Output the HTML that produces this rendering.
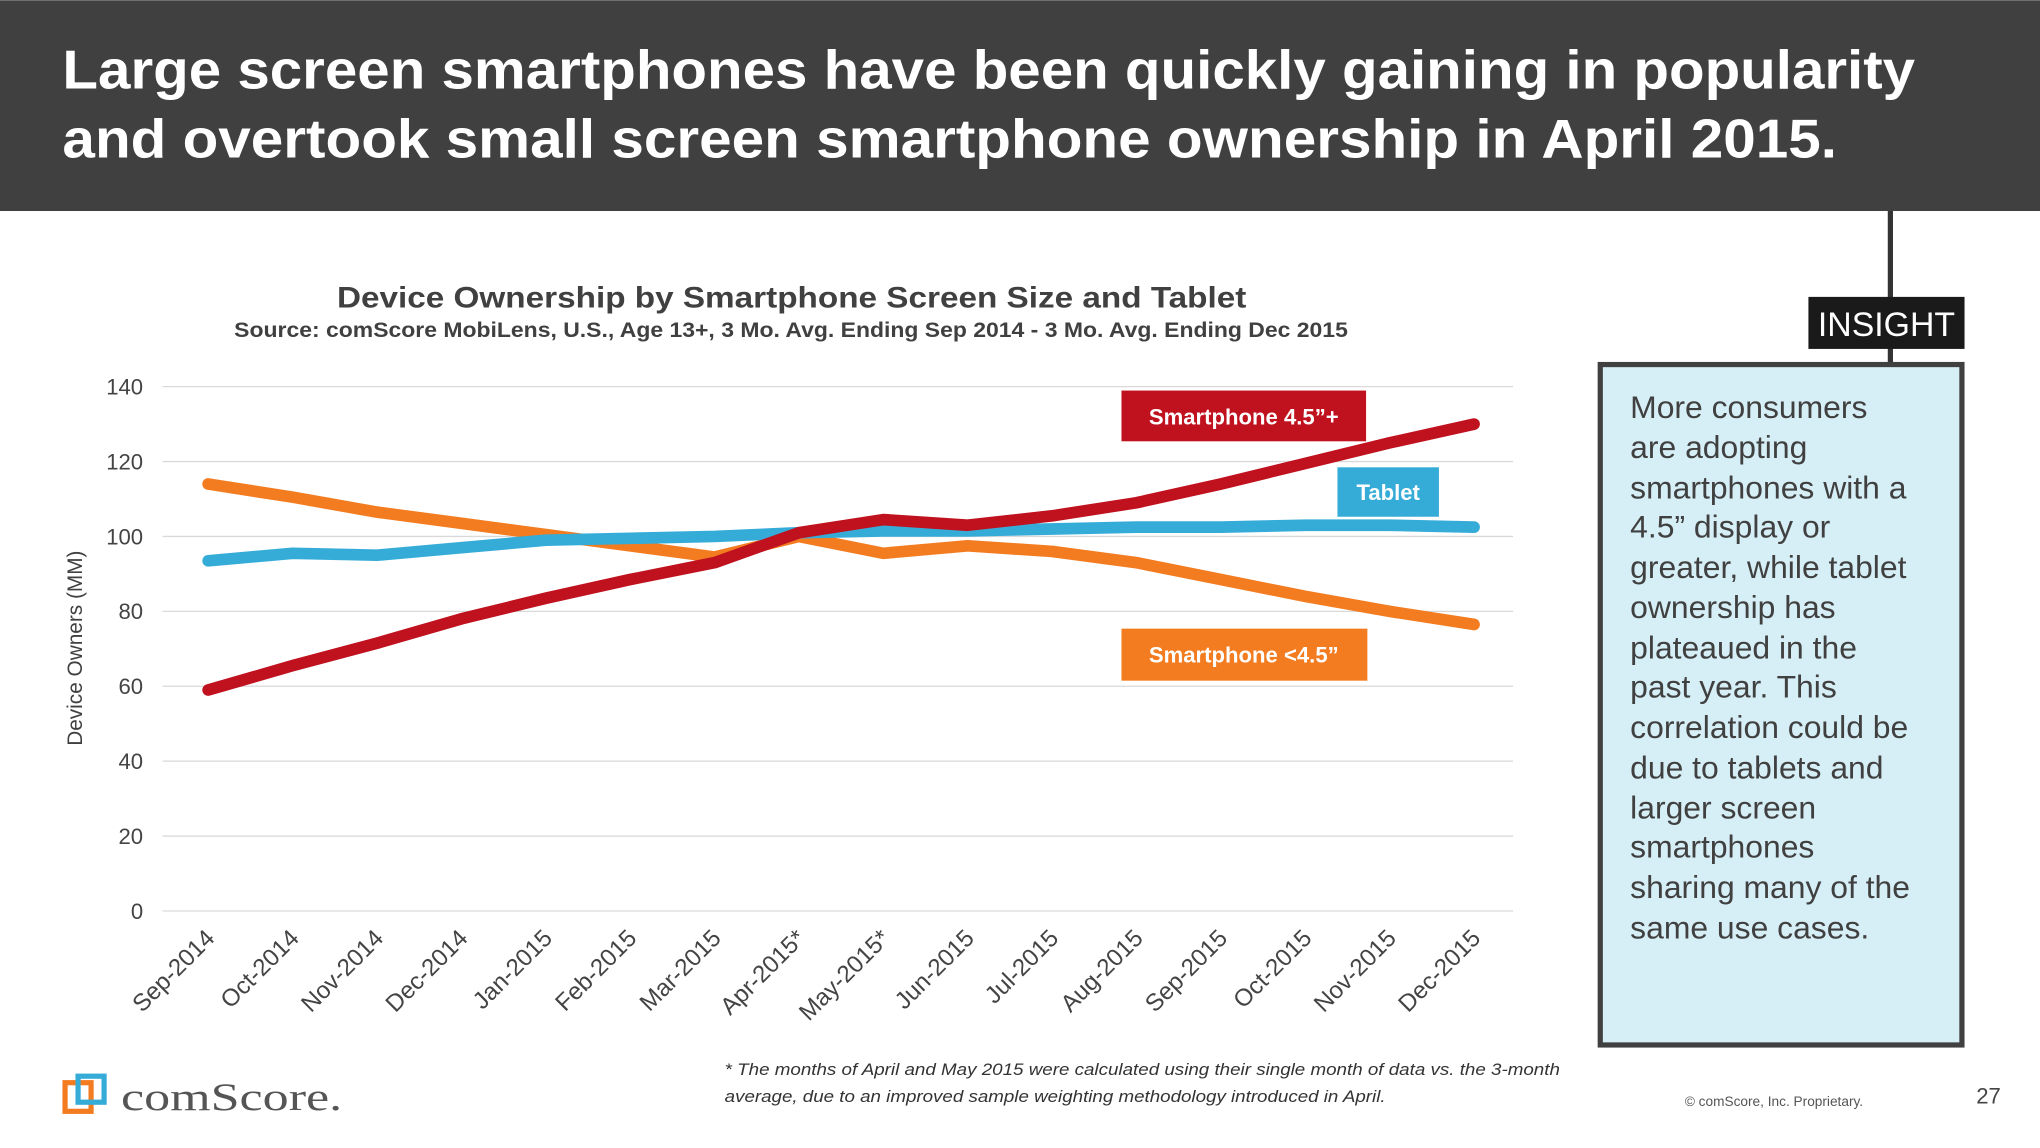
<!DOCTYPE html>
<html><head><meta charset="utf-8"><style>
html,body{margin:0;padding:0;background:#fff;}
svg{display:block;font-family:"Liberation Sans",Arial,sans-serif;}
</style></head><body>
<svg width="2040" height="1148" viewBox="0 0 1568 882" xmlns="http://www.w3.org/2000/svg">
<rect x="0" y="0" width="1568" height="162" fill="#404040"/>
<text x="48" y="68" fill="#fff" font-size="42" font-weight="bold" textLength="1424" lengthAdjust="spacingAndGlyphs">Large screen smartphones have been quickly gaining in popularity</text>
<text x="48" y="121" fill="#fff" font-size="42" font-weight="bold" textLength="1364" lengthAdjust="spacingAndGlyphs">and overtook small screen smartphone ownership in April 2015.</text>

<text x="259" y="236" fill="#404040" font-size="23" font-weight="bold" textLength="699" lengthAdjust="spacingAndGlyphs">Device Ownership by Smartphone Screen Size and Tablet</text>
<text x="180" y="259" fill="#404040" font-size="16" font-weight="bold" textLength="856" lengthAdjust="spacingAndGlyphs">Source: comScore MobiLens, U.S., Age 13+, 3 Mo. Avg. Ending Sep 2014 - 3 Mo. Avg. Ending Dec 2015</text>
<text transform="translate(63,498) rotate(-90)" text-anchor="middle" fill="#404040" font-size="16">Device Owners (MM)</text>
<g id="grid"></g><g id="ylab"></g><g id="xlab"></g><g id="lines"></g>

<rect x="862" y="300" width="188" height="39" fill="#c0111f"/>
<text x="956" y="326" text-anchor="middle" fill="#fff" font-size="17" font-weight="bold">Smartphone 4.5”+</text>
<rect x="1028" y="359" width="78" height="38" fill="#35acd8"/>
<text x="1067" y="384" text-anchor="middle" fill="#fff" font-size="17" font-weight="bold">Tablet</text>
<rect x="862" y="483" width="189" height="40" fill="#f47c20"/>
<text x="956" y="509" text-anchor="middle" fill="#fff" font-size="17" font-weight="bold">Smartphone &lt;4.5”</text>

<line x1="1453" y1="162" x2="1453" y2="282" stroke="#333" stroke-width="4"/>
<rect x="1230" y="280" width="278" height="523" fill="#d6eef6" stroke="#404040" stroke-width="4"/>
<rect x="1390" y="228" width="120" height="40" fill="#1a1a1a"/>
<text x="1450" y="258" text-anchor="middle" fill="#fff" font-size="26">INSIGHT</text>
<text fill="#404040" font-size="24.5">
<tspan x="1253" y="321">More consumers</tspan><tspan x="1253" y="352">are adopting</tspan><tspan x="1253" y="383">smartphones with a</tspan><tspan x="1253" y="413">4.5” display or</tspan><tspan x="1253" y="444">greater, while tablet</tspan><tspan x="1253" y="475">ownership has</tspan><tspan x="1253" y="506">plateaued in the</tspan><tspan x="1253" y="536">past year. This</tspan><tspan x="1253" y="567">correlation could be</tspan><tspan x="1253" y="598">due to tablets and</tspan><tspan x="1253" y="629">larger screen</tspan><tspan x="1253" y="659">smartphones</tspan><tspan x="1253" y="690">sharing many of the</tspan><tspan x="1253" y="721">same use cases.</tspan>
</text>

<g>
<rect x="50" y="832" width="20" height="22" fill="none" stroke="#f47c20" stroke-width="4"/>
<rect x="60" y="827" width="20" height="20" fill="none" stroke="#35acd8" stroke-width="4"/>
<text x="93" y="853" fill="#555" font-size="30" font-family="Liberation Serif,serif" textLength="170" lengthAdjust="spacingAndGlyphs">comScore.</text>
</g>
<text fill="#333" font-size="13" font-style="italic"><tspan x="557" y="826" textLength="642" lengthAdjust="spacingAndGlyphs">* The months of April and May 2015 were calculated using their single month of data vs. the 3-month</tspan><tspan x="557" y="847" textLength="508" lengthAdjust="spacingAndGlyphs">average, due to an improved sample weighting methodology introduced in April.</tspan></text>
<text x="1295" y="850" fill="#555" font-size="10.5">© comScore, Inc. Proprietary.</text>
<text x="1519" y="848" fill="#444" font-size="17">27</text>
</svg>
<script>
const categories=["Sep-2014","Oct-2014","Nov-2014","Dec-2014","Jan-2015","Feb-2015","Mar-2015","Apr-2015*","May-2015*","Jun-2015","Jul-2015","Aug-2015","Sep-2015","Oct-2015","Nov-2015","Dec-2015"];
const largePhone=[59,65.5,71.5,78,83.5,88.5,93,101,104.5,103,105.5,109,114,119.5,125,130];
const smallPhone=[114,110.5,106.5,103.5,100.5,97.5,94.5,100,95.5,97.5,96,93,88.5,84,80,76.5];
const tablet=[93.5,95.5,95,97,99,99.5,100,101,101.5,101.5,102,102.5,102.5,103,103,102.5];
const yTicks=[0,20,40,60,80,100,120,140];
const NS="http://www.w3.org/2000/svg";
const x=i=>160+i*(1133-160)/(categories.length-1);
const y=v=>700-v*(700-297)/140;
function mk(t,a,p){const e=document.createElementNS(NS,t);for(const k in a)e.setAttribute(k,a[k]);p.appendChild(e);return e;}
const grid=document.getElementById('grid'),yl=document.getElementById('ylab'),xl=document.getElementById('xlab'),lines=document.getElementById('lines');
yTicks.forEach(v=>{
 const l=mk('line',{x1:125,x2:1163,y1:y(v),y2:y(v),stroke:'#d9d9d9','stroke-width':1},grid);
 
 
 const t=mk('text',{x:110,y:y(v)+6,'text-anchor':'end','font-size':17,fill:'#444'},yl);
 t.textContent=v;
 
 
});
categories.forEach((c,i)=>{
 const t=mk('text',{transform:`translate(${x(i)+6},${y(0)+22}) rotate(-45)`,'text-anchor':'end','font-size':18.5,fill:'#444'},xl);
 t.textContent=c;
 
 
});
[[smallPhone,'#f47c20','line-smartphone-small'],[tablet,'#35acd8','line-tablet'],[largePhone,'#c0111f','line-smartphone-large']].forEach(([d,c,n])=>{
 const p=mk('polyline',{points:d.map((v,i)=>x(i)+','+y(v)).join(' '),fill:'none',stroke:c,'stroke-width':9,'stroke-linecap':'round','stroke-linejoin':'round'},lines);
 
 
});
</script>
</body></html>
